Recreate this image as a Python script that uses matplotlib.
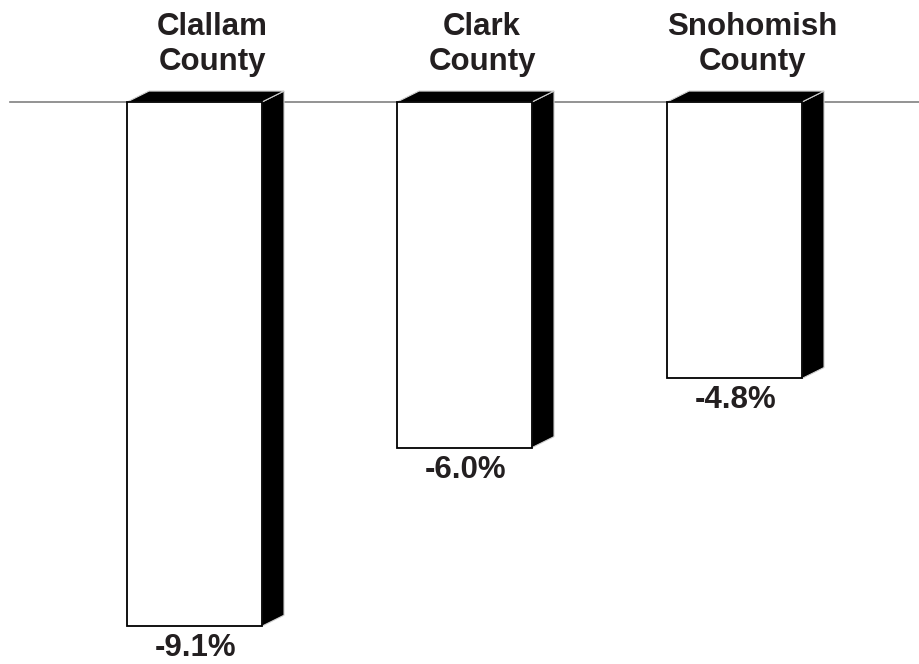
import matplotlib.pyplot as plt
from matplotlib.patches import Polygon

plt.rcParams['font.family'] = ['Liberation Sans', 'DejaVu Sans']

# Percent change by county
counties = ['Clallam\nCounty', 'Clark\nCounty', 'Snohomish\nCounty']
changes = [-9.1, -6.0, -4.8]
labels = ['-9.1%', '-6.0%', '-4.8%']

fig = plt.figure(figsize=(9.2, 6.64), dpi=100)
ax = fig.add_axes([0, 0, 1, 1])
ax.set_xlim(-0.7204, 2.687)
ax.set_ylim(-9.757, 1.771)
ax.axis('off')

width = 0.5
dx, dy = 0.0815, 0.19   # 3-D depth offset
txt_col = '#231f20'

# zero line
ax.plot([-0.683, 2.687], [0, 0], color='#808080', lw=1.2, zorder=1)

xs = list(range(len(changes)))
ax.bar(xs, changes, width=width, color='white', edgecolor='black',
       linewidth=1.3, zorder=4)

for x, v, name, lab in zip(xs, changes, counties, labels):
    l, r = x - width / 2, x + width / 2
    side = Polygon([(r, 0), (r + dx, dy), (r + dx, v + dy), (r, v)],
                   closed=True, facecolor='black', edgecolor='#d0d0d0',
                   linewidth=0.8, zorder=3)
    top = Polygon([(l, 0), (l + dx, dy), (r + dx, dy), (r, 0)],
                  closed=True, facecolor='black', edgecolor='#d0d0d0',
                  linewidth=0.8, zorder=3)
    ax.add_patch(side)
    ax.add_patch(top)
    ax.text(x + 0.065, 1.57, name, ha='center', va='top', fontsize=22.5,
            fontweight='bold', color=txt_col, linespacing=1.25)
    ax.text(x + 0.005, v - 0.12, lab, ha='center', va='top', fontsize=22.5,
            fontweight='bold', color=txt_col)

fig.savefig('out.png', dpi=100)
